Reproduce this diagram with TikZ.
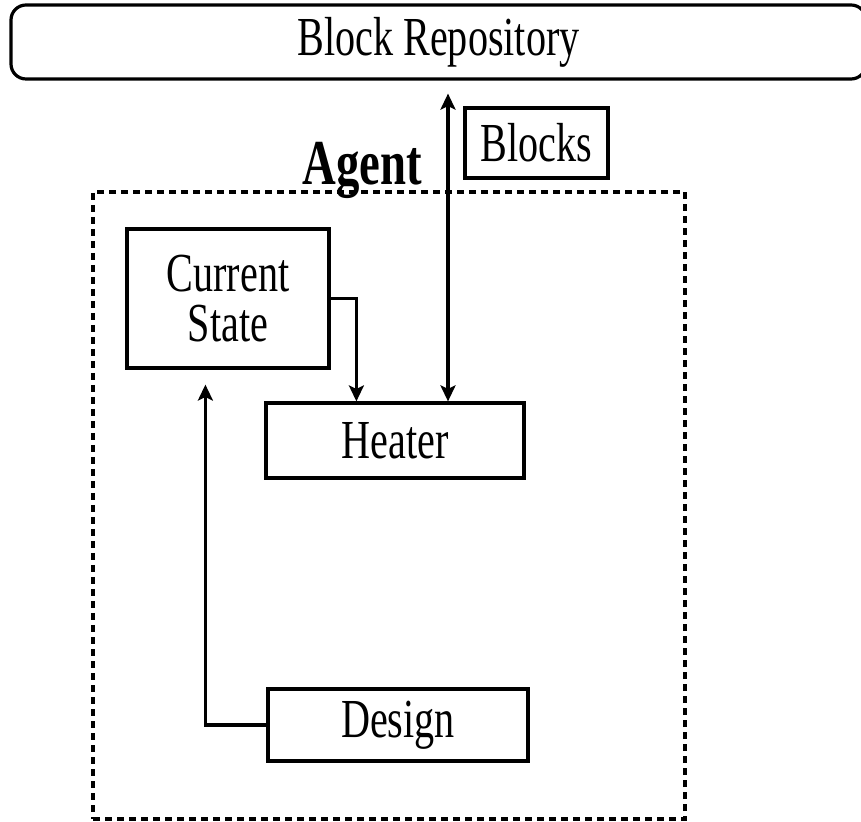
\documentclass[tikz,border=0pt]{standalone}
\usepackage{fontspec}
\setmainfont[FakeStretch=0.73]{Liberation Serif}
\usetikzlibrary{arrows.meta,calc}
\begin{document}
\begin{tikzpicture}[x=0.5pt,y=-0.5pt,
  lbl/.style={font=\fontsize{27.5}{25}\selectfont},
  box/.style={draw,line width=1.6pt,inner sep=0pt,lbl,align=center},
  frame/.style={draw,line width=1.6pt,dash pattern=on 3.5pt off 2.5pt,inner sep=0pt},
  tip/.style={-{Stealth[length=8pt,width=7.5pt,inset=1.8pt]}},
  both/.style={{Stealth[length=8pt,width=7.5pt,inset=1.8pt]}-{Stealth[length=8pt,width=7.5pt,inset=1.8pt]}},
  wire/.style={line width=1.6pt}]
\clip (0,0) rectangle (861,822);
\useasboundingbox (0,0) rectangle (861,822);

% repository bar across the top
\node[box,rounded corners=7.5pt,minimum width=427.5pt,minimum height=37pt] (repo) at (438.5,42) {Block Repository};

% agent frame and its title
\node[frame,minimum width=296pt,minimum height=313.5pt] (agent) at (389,505.5) {};
\node[anchor=base,inner sep=0pt,font=\fontsize{32}{32}\selectfont\bfseries] (agentlbl) at (362,185) {Agent};

% components
\node[box,minimum width=71.5pt,minimum height=35pt] (blocks) at (536.5,143) {Blocks};
\node[box,minimum width=101pt,minimum height=69.5pt] (cs) at (228,298.5) {Current\\State};
\node[box,minimum width=129pt,minimum height=37.5pt] (heater) at (395,440.5) {Heater};
\node[box,minimum width=130pt,minimum height=36pt] (design) at (398,725) {Design};

% connectors
\coordinate (repoend) at ($(repo.south)+(4.75pt,-6.5pt)$);
\coordinate (csin) at ($(cs.south west)+(40pt,-7.5pt)$);
\draw[wire,tip] (cs.east) -| ($(heater.north west)+(46pt,0)$);
\draw[wire,both] (repoend) -- (repoend |- heater.north);
\draw[wire,tip] (design.west) -| (csin);
\end{tikzpicture}
\end{document}
